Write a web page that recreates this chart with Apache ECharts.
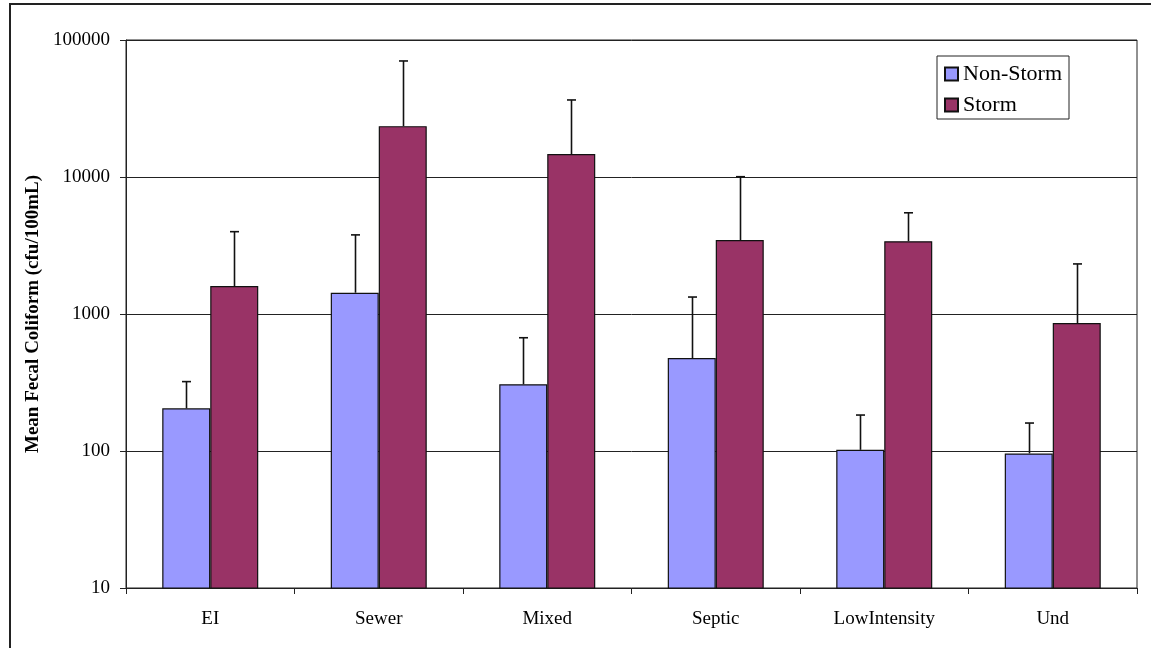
<!DOCTYPE html>
<html>
<head>
<meta charset="utf-8">
<title>Mean Fecal Coliform by Land Use</title>
<script src="https://cdn.jsdelivr.net/npm/echarts@6/dist/echarts.min.js"></script>
<style>
  html, body { margin: 0; padding: 0; background: #fff; }
  #chart { width: 1151px; height: 648px; }
</style>
</head>
<body>
<div id="chart"></div>
<script>
// Land-use categories
const categories = ['EI', 'Sewer', 'Mixed', 'Septic', 'LowIntensity', 'Und'];

// Mean fecal coliform (cfu/100mL)
const nonStormMean = [205, 1430, 307, 477, 102, 96];
const stormMean = [1600, 23500, 14700, 3470, 3400, 860];

// Upper end of the error bars (mean + 1 SD)
const nonStormUpper = [321, 3780, 671, 1330, 183, 160];
const stormUpper = [3990, 70300, 36500, 10050, 5480, 2320];

// Y-axis tick values (log scale)
const yTicks = [10, 100, 1000, 10000, 100000];

const FONT = "'Liberation Serif', 'Times New Roman', serif";
const BAR_W = 48;

function errorBarSeries(name, means, uppers, offset) {
  return {
    name: name,
    type: 'custom',
    z: 5,
    silent: true,
    data: means.map((m, i) => [i, m, uppers[i]]),
    encode: { x: 0, y: [1, 2] },
    renderItem: function (params, api) {
      const idx = api.value(0);
      const base = api.coord([idx, api.value(1)]);
      const top = api.coord([idx, api.value(2)]);
      const x = Math.round(base[0] + offset) + 0.5;
      const lineStyle = { stroke: '#111', lineWidth: 1.6 };
      return {
        type: 'group',
        children: [
          { type: 'line', shape: { x1: x, y1: base[1], x2: x, y2: top[1] }, style: lineStyle },
          { type: 'line', shape: { x1: x - 4.5, y1: top[1], x2: x + 4.5, y2: top[1] }, style: lineStyle }
        ]
      };
    }
  };
}

const chart = echarts.init(document.getElementById('chart'), null, { renderer: 'canvas' });

chart.setOption({
  backgroundColor: '#fff',
  animation: false,
  textStyle: { fontFamily: FONT },
  graphic: [{
    type: 'rect',
    shape: { x: 10, y: 4, width: 1200, height: 700 },
    style: { fill: 'none', stroke: '#222', lineWidth: 2 },
    silent: true,
    z: 100
  }],
  grid: {
    left: 126, right: 14, top: 40, bottom: 60,
    show: true,
    borderColor: '#222',
    borderWidth: 1
  },
  legend: {
    data: ['Non-Storm', 'Storm'],
    orient: 'vertical',
    left: 937,
    top: 56,
    icon: 'rect',
    itemWidth: 13,
    itemHeight: 13,
    itemGap: 9,
    padding: [7, 7, 3, 7],
    borderColor: '#222',
    borderWidth: 1,
    backgroundColor: '#fff',
    selectedMode: false,
    textStyle: { fontFamily: FONT, fontSize: 22, color: '#000' }
  },
  xAxis: {
    type: 'category',
    data: categories,
    axisLine: { lineStyle: { color: '#222', width: 1 } },
    axisTick: { show: true, length: 6, alignWithLabel: false, lineStyle: { color: '#222' } },
    axisLabel: { fontFamily: FONT, fontSize: 19, color: '#000', margin: 22 },
    splitLine: { show: false }
  },
  yAxis: {
    type: 'log',
    logBase: 10,
    min: yTicks[0],
    max: yTicks[yTicks.length - 1],
    name: 'Mean Fecal Coliform (cfu/100mL)',
    nameLocation: 'middle',
    nameGap: 83,
    nameTextStyle: { fontFamily: FONT, fontSize: 19, fontWeight: 'bold', color: '#000' },
    axisLine: { show: true, lineStyle: { color: '#222', width: 1 } },
    axisTick: { show: true, length: 6, lineStyle: { color: '#222' } },
    axisLabel: {
      fontFamily: FONT, fontSize: 19, color: '#000', margin: 16,
      formatter: v => String(Math.round(v))
    },
    splitLine: { show: true, lineStyle: { color: '#222', width: 1 } }
  },
  series: [
    {
      name: 'Non-Storm',
      type: 'bar',
      barWidth: BAR_W,
      barGap: '0%',
      data: nonStormMean,
      itemStyle: { color: '#9999FF', borderColor: '#111', borderWidth: 1.2 },
      z: 3
    },
    {
      name: 'Storm',
      type: 'bar',
      barWidth: BAR_W,
      barGap: '0%',
      data: stormMean,
      itemStyle: { color: '#993366', borderColor: '#111', borderWidth: 1.2 },
      z: 3
    },
    errorBarSeries('Non-Storm error', nonStormMean, nonStormUpper, -BAR_W / 2),
    errorBarSeries('Storm error', stormMean, stormUpper, BAR_W / 2)
  ]
});
</script>
</body>
</html>
